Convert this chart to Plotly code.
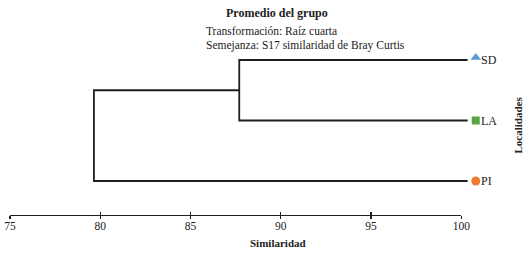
import plotly.graph_objects as go

# ---- data ----
leaves = ["SD", "LA", "PI"]               # top to bottom order
leaf_symbols = ["triangle-up", "square", "circle"]
leaf_colors = ["#5B9BD5", "#5AA642", "#ED7D31"]
merge_sd_la = 87.7                        # similarity where SD and LA join
merge_all = 79.65                         # similarity where (SD,LA) joins PI
leaf_sim = 100.0
tick_vals = [75, 80, 85, 90, 95, 100]
tick_text = ["75", "80", "85", "90", "95", "100"]

FONT = "Liberation Serif"
LINE = dict(color="#1f1f1f", width=1.8)

W, H = 529, 255
px_per_unit = (461.3 - 10) / 25.0
x_lo = 75 - 10 / px_per_unit
x_hi = 75 + (W - 10) / px_per_unit
y_top_px, y_step = 60.0, 60.5
y_lo = (H - y_top_px) / y_step
y_hi = -y_top_px / y_step

ypos = {name: i for i, name in enumerate(leaves)}
ext = 0.35  # leaf line overhang past 100 (style)

fig = go.Figure()

def seg(xs, ys):
    fig.add_trace(go.Scatter(x=xs, y=ys, mode="lines", line=LINE,
                             showlegend=False, hoverinfo="skip"))

y_sd, y_la, y_pi = ypos["SD"], ypos["LA"], ypos["PI"]
y_mid = (y_sd + y_la) / 2
# SD-LA cluster
seg([leaf_sim + ext, merge_sd_la, merge_sd_la, leaf_sim + ext], [y_sd, y_sd, y_la, y_la])
# root
seg([merge_sd_la, merge_all, merge_all, leaf_sim + ext], [y_mid, y_mid, y_pi, y_pi])

# leaf markers + labels
for name, sym, col in zip(leaves, leaf_symbols, leaf_colors):
    fig.add_trace(go.Scatter(
        x=[leaf_sim + 0.8], y=[ypos[name] - (0.04 if sym == "triangle-up" else 0)],
        mode="markers", marker=dict(symbol=sym, color=col, size=9 if sym != "square" else 8,
                                    line=dict(width=0)),
        showlegend=False, hoverinfo="skip", cliponaxis=False))
    fig.add_annotation(x=leaf_sim + 1.0, y=ypos[name], xref="x", yref="y",
                       text=name, showarrow=False, xanchor="left", yanchor="middle",
                       font=dict(family=FONT, size=12, color="#222"))

# invisible traces for visible similarity axes
for ax in ["x2", "x3", "x4"]:
    fig.add_trace(go.Scatter(x=[75, 100], y=[None, None], xaxis=ax, yaxis="y",
                             mode="markers", showlegend=False, hoverinfo="skip"))

axpos = 1 - 214.7 / H
dom = [10 / W, 461.3 / W]
common = dict(range=[75, 100], domain=dom, anchor="free", position=axpos,
              tickvals=tick_vals, showgrid=False, zeroline=False,
              fixedrange=True, automargin=False)
fig.update_layout(
    width=W, height=H, autosize=False,
    margin=dict(l=0, r=0, t=0, b=0, pad=0, autoexpand=False),
    paper_bgcolor="white", plot_bgcolor="rgba(0,0,0,0)",
    xaxis=dict(range=[x_lo, x_hi], domain=[0, 1], visible=False, fixedrange=True),
    yaxis=dict(range=[y_lo, y_hi], domain=[0, 1], visible=False, fixedrange=True),
    xaxis2=dict(**common, showline=True, linecolor="#1f1f1f", linewidth=1.6,
                ticks="", ticktext=tick_text,
                tickfont=dict(family=FONT, size=11.5, color="#222")),
    xaxis3=dict(**common, showline=False, ticks="inside", ticklen=3, tickwidth=1.4,
                tickcolor="#1f1f1f", showticklabels=False),
    xaxis4=dict(**common, showline=False, ticks="outside", ticklen=3, tickwidth=1.4,
                tickcolor="#1f1f1f", showticklabels=False),
    showlegend=False,
)

def ann(text, x, y, **kw):
    d = dict(text=text, x=x / W, y=1 - y / H, xref="paper", yref="paper",
             showarrow=False, font=dict(family=FONT, size=kw.pop("size", 12), color="#222"))
    d.update(kw)
    fig.add_annotation(**d)

ann("<b>Promedio del grupo</b>", 276.5, 13, xanchor="center", yanchor="middle")
ann("Transformación: Raíz cuarta", 204, 31, xanchor="left", yanchor="middle", size=11.5)
ann("Semejanza: S17 similaridad de Bray Curtis", 204, 45, xanchor="left", yanchor="middle", size=11.5)
ann("<b>Similaridad</b>", 278, 243, xanchor="center", yanchor="middle", size=11)
ann("<b>Localidades</b>", 517.5, 125, xanchor="center", yanchor="middle", textangle=-90, size=11)

fig.write_html("out.html", config={"displayModeBar": False, "staticPlot": True},
               post_script="document.body.style.margin='0';")
